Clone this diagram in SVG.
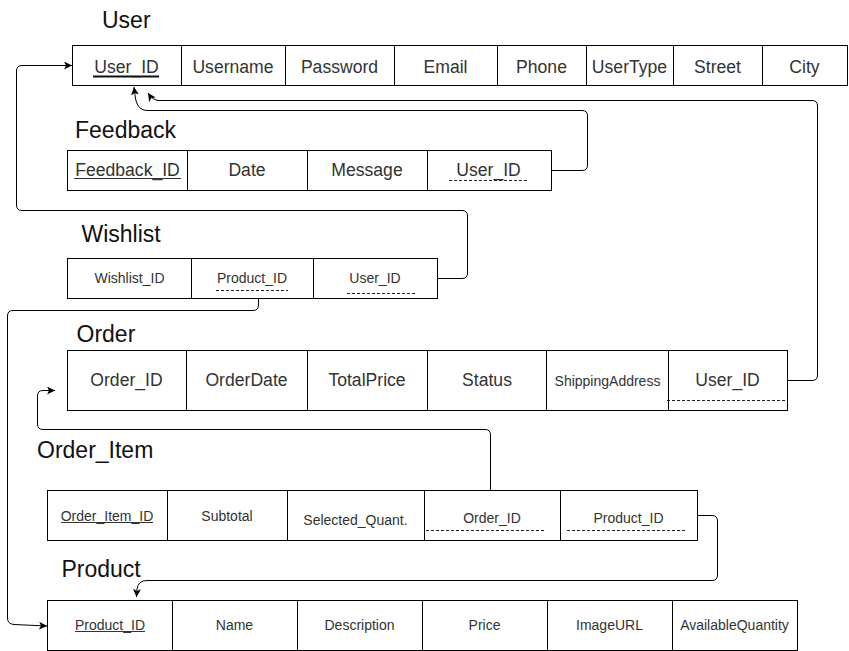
<svg xmlns="http://www.w3.org/2000/svg" width="849" height="651" viewBox="0 0 849 651">
<defs>
<style>
.cell{fill:#fff;stroke:#000;stroke-width:1}
.t{font-family:"Liberation Sans",Arial,sans-serif;fill:#333;text-anchor:middle}
.big{font-size:17.6px}
.sm{font-size:14px}
.title{font-family:"Liberation Sans",Arial,sans-serif;fill:#111;font-size:23px}
.ul{stroke:#333;stroke-width:1}
.dash{stroke:#222;stroke-width:1;stroke-dasharray:3 2}
.conn{fill:none;stroke:#000;stroke-width:1}
</style>
<marker id="arr" markerUnits="userSpaceOnUse" markerWidth="10" markerHeight="10" refX="8" refY="4" orient="auto">
<path d="M0,0 L8,4 L0,8 L2,4 z" fill="#000"/>
</marker>
</defs>
<rect width="849" height="651" fill="#fff"/>

<g id="user">
<text class="title" x="102" y="28">User</text>
<rect class="cell" x="72.5" y="45.5" width="775" height="40"/>
<path class="cell" d="M181.5,45.5V85.5M285.5,45.5V85.5M394.5,45.5V85.5M497.5,45.5V85.5M586.5,45.5V85.5M673.5,45.5V85.5M762.5,45.5V85.5"/>
<text class="t big" x="126.5" y="72.5">User_ID</text>
<line x1="93" y1="76.5" x2="159" y2="76.5" stroke="#111" stroke-width="2"/>
<text class="t big" x="233" y="72.5">Username</text>
<text class="t big" x="339.5" y="72.5">Password</text>
<text class="t big" x="445.5" y="72.5">Email</text>
<text class="t big" x="541.5" y="72.5">Phone</text>
<text class="t big" x="629.5" y="72.5">UserType</text>
<text class="t big" x="717.5" y="72.5">Street</text>
<text class="t big" x="804.5" y="72.5">City</text>
</g>

<g id="feedback">
<text class="title" x="75" y="137.5">Feedback</text>
<rect class="cell" x="67.5" y="150.5" width="484" height="40"/>
<path class="cell" d="M187.5,150.5V190.5M307.5,150.5V190.5M427.5,150.5V190.5"/>
<text class="t big" x="127.5" y="176">Feedback_ID</text>
<line class="ul" x1="74" y1="178.5" x2="181" y2="178.5"/>
<text class="t big" x="247" y="176">Date</text>
<text class="t big" x="367" y="176">Message</text>
<text class="t big" x="488.5" y="176">User_ID</text>
<line class="dash" x1="449" y1="180.5" x2="528" y2="180.5"/>
</g>

<g id="wishlist">
<text class="title" x="81.5" y="242">Wishlist</text>
<rect class="cell" x="67.5" y="258.5" width="370" height="40"/>
<path class="cell" d="M191.5,258.5V298.5M313.5,258.5V298.5"/>
<text class="t sm" x="129.5" y="282.5">Wishlist_ID</text>
<text class="t sm" x="252" y="282.5">Product_ID</text>
<line class="dash" x1="216" y1="290.5" x2="288" y2="290.5"/>
<text class="t sm" x="375" y="282.5">User_ID</text>
<line class="dash" x1="347" y1="293.5" x2="417" y2="293.5"/>
</g>

<g id="order">
<text class="title" x="76.5" y="341.5">Order</text>
<rect class="cell" x="67.5" y="350.5" width="720" height="60"/>
<path class="cell" d="M186.5,350.5V410.5M307.5,350.5V410.5M427.5,350.5V410.5M546.5,350.5V410.5M668.5,350.5V410.5"/>
<text class="t big" x="126.5" y="386">Order_ID</text>
<text class="t big" x="246.5" y="386">OrderDate</text>
<text class="t big" x="367" y="386">TotalPrice</text>
<text class="t big" x="487" y="386">Status</text>
<text class="t sm" x="607.5" y="385.5">ShippingAddress</text>
<text class="t big" x="727.5" y="386">User_ID</text>
<line class="dash" x1="667" y1="400.5" x2="786" y2="400.5"/>
</g>

<g id="order_item">
<text class="title" x="37" y="458">Order_Item</text>
<rect class="cell" x="47.5" y="490.5" width="650" height="50"/>
<path class="cell" d="M167.5,490.5V540.5M287.5,490.5V540.5M424.5,490.5V540.5M560.5,490.5V540.5"/>
<text class="t sm" x="107" y="520.5">Order_Item_ID</text>
<line class="ul" x1="61" y1="522.5" x2="153" y2="522.5"/>
<text class="t sm" x="227" y="521">Subtotal</text>
<text class="t sm" x="355.5" y="525">Selected_Quant.</text>
<text class="t sm" x="492" y="523">Order_ID</text>
<line class="dash" x1="426" y1="530.5" x2="544" y2="530.5"/>
<text class="t sm" x="628.5" y="523">Product_ID</text>
<line class="dash" x1="567" y1="530.5" x2="685" y2="530.5"/>
</g>

<g id="product">
<text class="title" x="61.5" y="577">Product</text>
<rect class="cell" x="47.5" y="600.5" width="750" height="50"/>
<path class="cell" d="M172.5,600.5V650.5M297.5,600.5V650.5M422.5,600.5V650.5M547.5,600.5V650.5M672.5,600.5V650.5"/>
<text class="t sm" x="110" y="630">Product_ID</text>
<line class="ul" x1="75" y1="631.5" x2="145" y2="631.5"/>
<text class="t sm" x="234.5" y="630">Name</text>
<text class="t sm" x="359.5" y="630">Description</text>
<text class="t sm" x="484.5" y="630">Price</text>
<text class="t sm" x="609.5" y="630">ImageURL</text>
<text class="t sm" x="734.5" y="630">AvailableQuantity</text>
</g>

<g id="connectors">
<path class="conn" marker-end="url(#arr)" d="M551.5,170.5H582Q587.5,170.5 587.5,165V116Q587.5,110.5 582,110.5H147Q138,110.5 135.5,99L134,87"/>
<path class="conn" marker-end="url(#arr)" d="M787.5,380.5H812Q817.5,380.5 817.5,375V106Q817.5,100.5 812,100.5H159Q153,100.5 148,93"/>
<path class="conn" marker-end="url(#arr)" d="M437.5,278.5H462Q467.5,278.5 467.5,273V216Q467.5,210.5 462,210.5H22Q16.5,210.5 16.5,205V71Q16.5,65.5 22,65.5H72"/>
<path class="conn" marker-end="url(#arr)" d="M258.5,298.5V305Q258.5,310.5 253,310.5H13Q7.5,310.5 7.5,316V618Q7.5,624 14,624.5L47,626"/>
<path class="conn" marker-end="url(#arr)" d="M490.5,490.5V435Q490.5,429.5 485,429.5H43Q37.5,429.5 37.5,424V396Q37.5,390.5 43,390.5H55"/>
<path class="conn" marker-end="url(#arr)" d="M697.5,515.5H712Q717.5,515.5 717.5,521V575Q717.5,580.5 712,580.5H147Q138,580.5 137,589L136.5,597"/>
</g>
</svg>
